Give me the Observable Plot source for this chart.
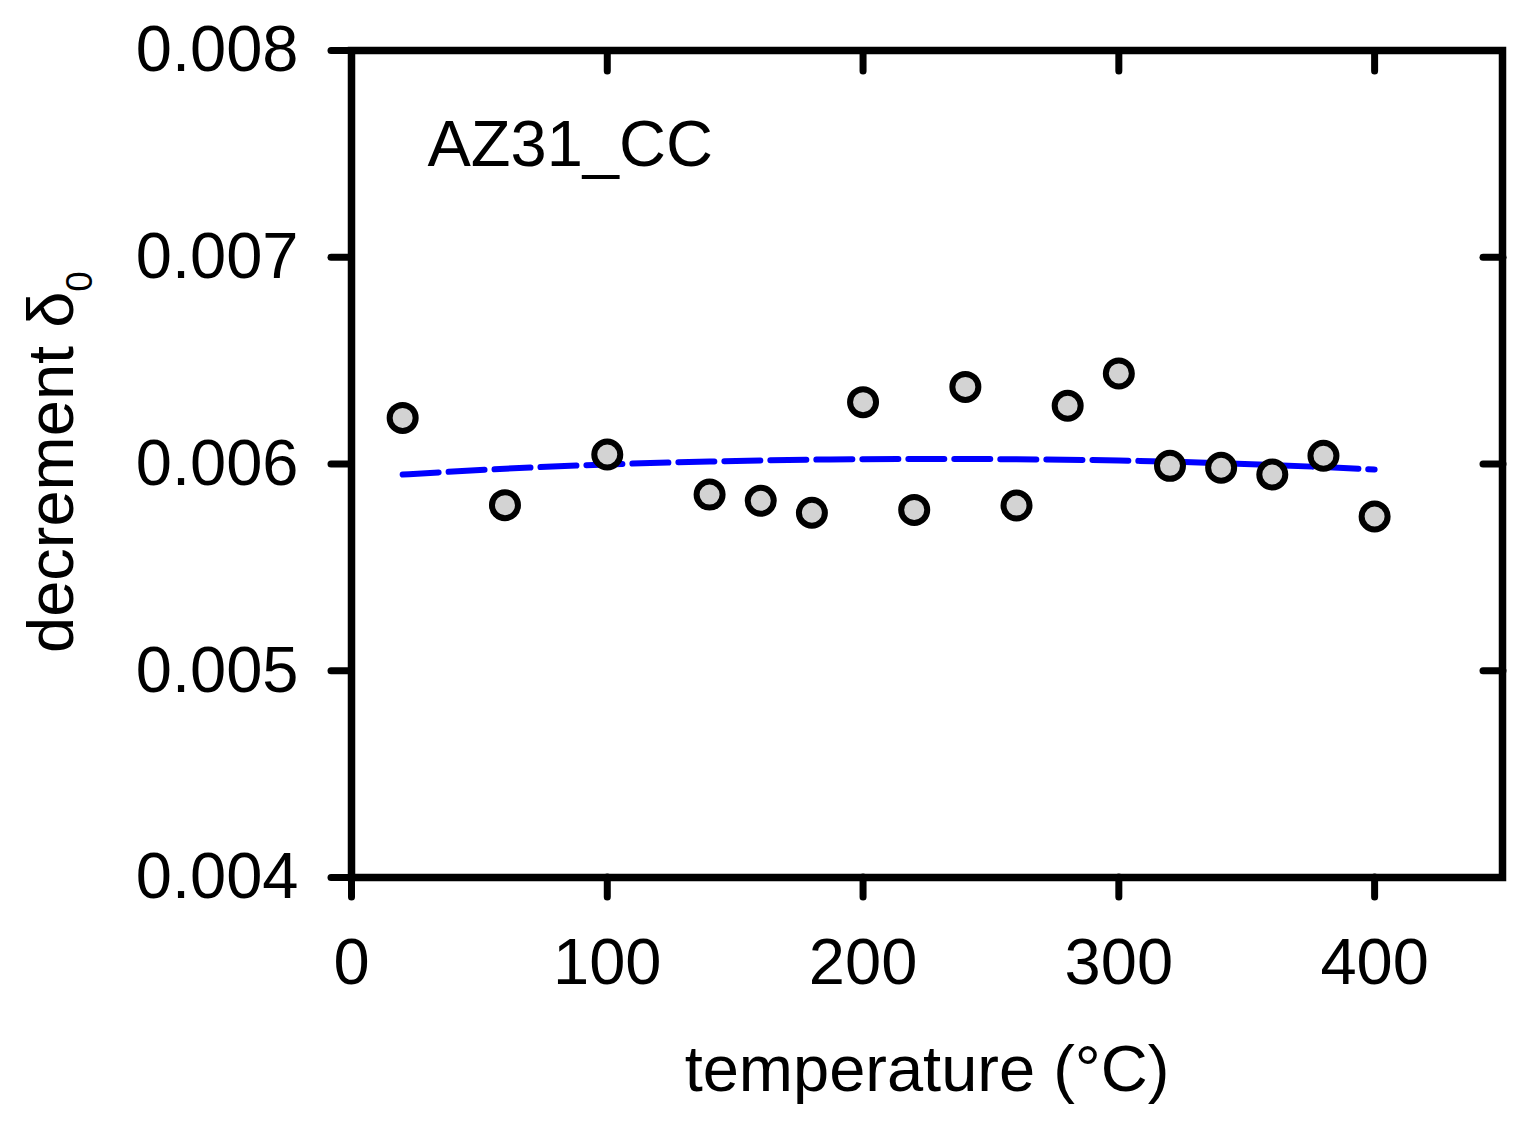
<!DOCTYPE html>
<html>
<head>
<meta charset="utf-8">
<script src="https://cdn.jsdelivr.net/npm/d3@7"></script>
<script src="https://cdn.jsdelivr.net/npm/@observablehq/plot@0.6"></script>
<style>
  html, body { margin: 0; padding: 0; background: #ffffff; }
  #chart { width: 1526px; height: 1125px; }
</style>
</head>
<body>
<div id="chart"></div>
<script>
// Measured data: temperature (°C) and decrement δ0
const temps = [20, 60, 100, 140, 160, 180, 200, 220, 240, 260, 280, 300, 320, 340, 360, 380, 400];
const decrement = [0.006223, 0.005801, 0.006046, 0.005852, 0.005822, 0.005764, 0.006299, 0.005778,
                   0.006373, 0.005799, 0.006282, 0.006438, 0.005991, 0.005982, 0.005949, 0.006040, 0.005746];

// Fitted curve (dashed blue)
const fitTemps = [20, 60, 100, 140, 180, 220, 260, 300, 340, 380, 400];
const fitValues = [0.005949, 0.005977, 0.005998, 0.006012, 0.006021, 0.006024, 0.006023, 0.006017, 0.006004, 0.005985, 0.005973];

// Axis ticks
const xTicks = [0, 100, 200, 300, 400];
const yTicks = [0.004, 0.005, 0.006, 0.007, 0.008];

const sampleLabel = "AZ31_CC";
const xTitle = "temperature (°C)";

const points = temps.map((t, i) => ({t, v: decrement[i]}));
const fit = fitTemps.map((t, i) => ({t, v: fitValues[i]}));

const FONT = "'Liberation Sans', Arial, Helvetica, sans-serif";

const chart = Plot.plot({
  width: 1526,
  height: 1125,
  marginLeft: 351,
  marginRight: 24,
  marginTop: 50,
  marginBottom: 248,
  style: {fontFamily: FONT, background: "#ffffff", color: "#000000", overflow: "visible"},
  x: {domain: [0, 450]},
  y: {domain: [0.004, 0.008]},
  marks: [
    Plot.axisX({anchor: "bottom", ticks: xTicks, tickSize: 20, tickPadding: 40, strokeWidth: 7,
                strokeLinecap: "round", fontSize: 65, label: null, tickFormat: d3.format("d")}),
    Plot.axisX({anchor: "top", ticks: xTicks.slice(1), tickSize: -20, strokeWidth: 7,
                strokeLinecap: "round", label: null, tickFormat: () => ""}),
    Plot.axisY({anchor: "left", ticks: yTicks, tickSize: 20, tickPadding: 33, strokeWidth: 7,
                strokeLinecap: "round", fontSize: 65, label: null, tickFormat: d3.format(".3f")}),
    Plot.axisY({anchor: "right", ticks: yTicks.slice(1, -1), tickSize: -20, strokeWidth: 7,
                strokeLinecap: "round", label: null, tickFormat: () => ""}),
    Plot.frame({stroke: "#000000", strokeWidth: 7.5}),
    Plot.line(fit, {x: "t", y: "v", stroke: "#0000ff", strokeWidth: 6, strokeDasharray: "36,10",
                    curve: "natural"}),
    Plot.dot(points, {x: "t", y: "v", r: 13, fill: "#d3d3d3", stroke: "#000000", strokeWidth: 6}),
    Plot.text([sampleLabel], {frameAnchor: "top-left", textAnchor: "start", lineAnchor: "bottom",
                              dx: 76, dy: 115, fontSize: 65, fill: "#000000"}),
    Plot.text([xTitle], {frameAnchor: "bottom", textAnchor: "middle", lineAnchor: "bottom",
                         dy: 213, fontSize: 65, fill: "#000000"})
  ]
});

// Y axis title with subscript
const svg = d3.select(chart);
const yt = svg.append("text")
  .attr("transform", "translate(73,653) rotate(-90)")
  .attr("text-anchor", "start")
  .attr("font-family", FONT)
  .attr("font-size", 65)
  .attr("fill", "#000000");
yt.append("tspan").text("decrement δ");
yt.append("tspan").attr("dy", 19).attr("font-size", 37).text("0");

document.getElementById("chart").appendChild(chart);
</script>
</body>
</html>
